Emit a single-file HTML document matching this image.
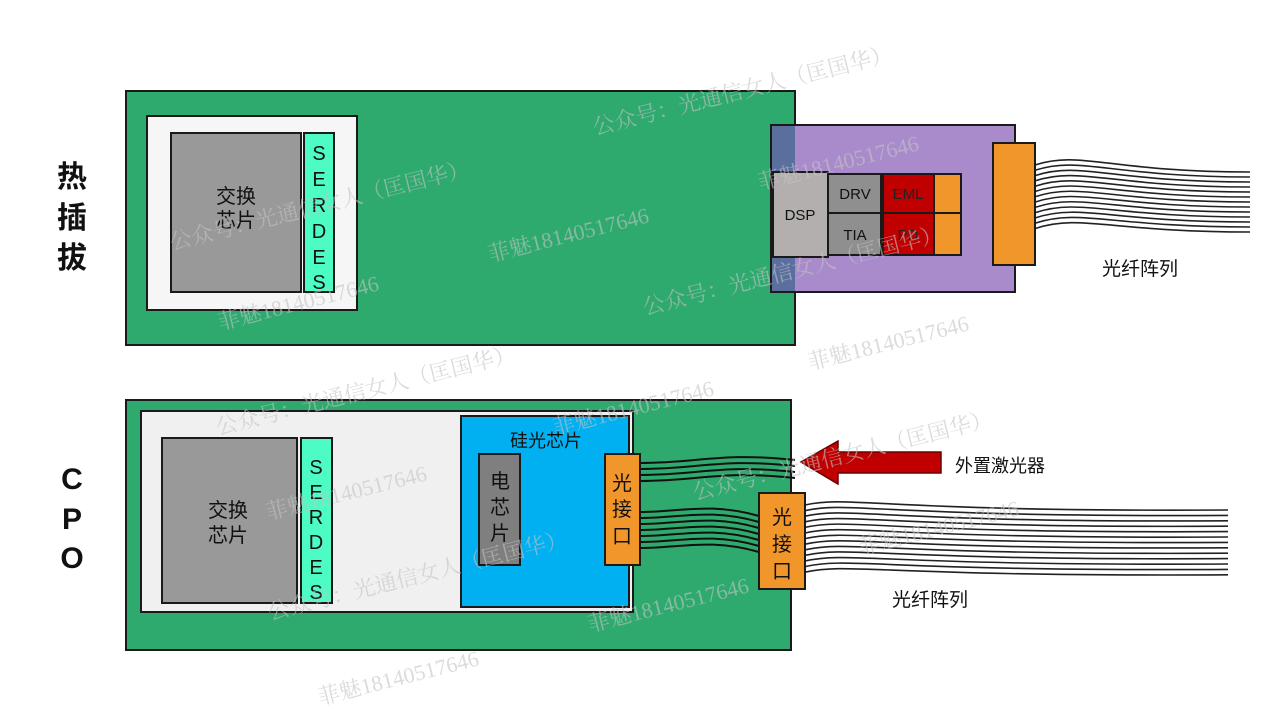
<!DOCTYPE html>
<html><head><meta charset="utf-8"><style>
html,body{margin:0;padding:0;background:#fff;}
svg{display:block;}
text{font-family:"Liberation Sans","Noto Sans CJK SC",sans-serif;}
.wm text{font-family:"Liberation Serif","Noto Serif CJK SC",serif;fill:#c4c4c4;font-size:22px;}
</style></head><body>
<svg width="1280" height="719" viewBox="0 0 1280 719" xmlns="http://www.w3.org/2000/svg">
<!-- TOP -->
<rect x="126" y="91" width="669" height="254" fill="#2eaa6e" stroke="#1a1a1a" stroke-width="2"/>
<rect x="147" y="116" width="210" height="194" fill="#f6f6f6" stroke="#1a1a1a" stroke-width="2"/>
<rect x="171" y="133" width="130" height="159" fill="#999" stroke="#1a1a1a" stroke-width="2"/>
<rect x="304" y="133" width="30" height="159" fill="#4dfbc4" stroke="#1a1a1a" stroke-width="2"/>
<text x="236" y="203" font-size="20" text-anchor="middle" fill="#111">交换</text>
<text x="236" y="227" font-size="20" text-anchor="middle" fill="#111">芯片</text>
<g font-size="20" text-anchor="middle" fill="#111">
<text x="319" y="160">S</text><text x="319" y="186">E</text><text x="319" y="212">R</text><text x="319" y="238">D</text><text x="319" y="264">E</text><text x="319" y="289">S</text></g>
<g font-size="30" font-weight="bold" text-anchor="middle" fill="#111">
<text x="72" y="187">热</text><text x="72" y="228">插</text><text x="72" y="268">拔</text></g>

<rect x="771" y="125" width="244" height="167" fill="#a98bcc"/>
<rect x="771" y="125" width="24" height="167" fill="#5a6f9e"/>
<rect x="771" y="125" width="244" height="167" fill="none" stroke="#1a1a1a" stroke-width="2"/>
<rect x="773" y="172" width="55" height="85" fill="#b4afaf" stroke="#1a1a1a" stroke-width="2"/>
<text x="800" y="220" font-size="15" text-anchor="middle" fill="#111">DSP</text>
<rect x="828" y="174" width="53" height="39" fill="#8f8f8f" stroke="#1a1a1a" stroke-width="2"/>
<rect x="828" y="213" width="53" height="42" fill="#8f8f8f" stroke="#1a1a1a" stroke-width="2"/>
<text x="855" y="199" font-size="15" text-anchor="middle" fill="#111">DRV</text>
<text x="855" y="240" font-size="15" text-anchor="middle" fill="#111">TIA</text>
<rect x="883" y="174" width="51" height="39" fill="#c00000" stroke="#1a1a1a" stroke-width="2"/>
<rect x="883" y="213" width="51" height="42" fill="#c00000" stroke="#1a1a1a" stroke-width="2"/>
<text x="908" y="199" font-size="15" text-anchor="middle" fill="#222">EML</text>
<text x="908" y="240" font-size="15" text-anchor="middle" fill="#222">PD</text>
<rect x="934" y="174" width="27" height="39" fill="#f0962a" stroke="#1a1a1a" stroke-width="2"/>
<rect x="934" y="213" width="27" height="42" fill="#f0962a" stroke="#1a1a1a" stroke-width="2"/>
<g stroke="#222" stroke-width="1.6" fill="none">
<path d="M1035,165 C1080,150 1110,172 1250,172"/><path d="M1035,170.3 C1080,155.3 1110,177 1250,177"/>
<path d="M1035,175.6 C1080,160.6 1110,182 1250,182"/><path d="M1035,180.9 C1080,165.9 1110,187 1250,187"/>
<path d="M1035,186.2 C1080,171.2 1110,192 1250,192"/><path d="M1035,191.5 C1080,176.5 1110,197 1250,197"/>
<path d="M1035,196.8 C1080,181.8 1110,202 1250,202"/><path d="M1035,202.1 C1080,187.1 1110,207 1250,207"/>
<path d="M1035,207.4 C1080,192.4 1110,212 1250,212"/><path d="M1035,212.7 C1080,197.7 1110,217 1250,217"/>
<path d="M1035,218 C1080,203 1110,222 1250,222"/><path d="M1035,223.3 C1080,208.3 1110,227 1250,227"/>
<path d="M1035,228.6 C1080,213.6 1110,232 1250,232"/></g>
<rect x="993" y="143" width="42" height="122" fill="#f0962a" stroke="#1a1a1a" stroke-width="2"/>
<text x="1140" y="275" font-size="19" text-anchor="middle" fill="#111">光纤阵列</text>

<!-- BOTTOM -->
<rect x="126" y="400" width="665" height="250" fill="#2eaa6e" stroke="#1a1a1a" stroke-width="2"/>
<rect x="141" y="411" width="492" height="201" fill="#f0f0f0" stroke="#1a1a1a" stroke-width="2"/>
<rect x="162" y="438" width="135" height="165" fill="#999" stroke="#1a1a1a" stroke-width="2"/>
<rect x="301" y="438" width="31" height="165" fill="#4dfbc4" stroke="#1a1a1a" stroke-width="2"/>
<text x="228" y="517" font-size="20" text-anchor="middle" fill="#111">交换</text>
<text x="228" y="542" font-size="20" text-anchor="middle" fill="#111">芯片</text>
<g font-size="20" text-anchor="middle" fill="#111">
<text x="316" y="474">S</text><text x="316" y="499">E</text><text x="316" y="524">R</text><text x="316" y="549">D</text><text x="316" y="574">E</text><text x="316" y="599">S</text></g>
<g font-size="30" font-weight="bold" text-anchor="middle" fill="#111">
<text x="72" y="489">C</text><text x="72" y="529">P</text><text x="72" y="568">O</text></g>
<rect x="461" y="416" width="168" height="191" fill="#00b0f0" stroke="#1a1a1a" stroke-width="2"/>
<text x="546" y="447" font-size="18" text-anchor="middle" fill="#111">硅光芯片</text>
<rect x="479" y="454" width="41" height="111" fill="#7f7f7f" stroke="#1a1a1a" stroke-width="2"/>
<g font-size="20" text-anchor="middle" fill="#111"><text x="500" y="488">电</text><text x="500" y="514">芯</text><text x="500" y="540">片</text></g>
<g stroke="#111" stroke-width="2" fill="none">
<path d="M640,463 C700,463 720,452 795,460"/><path d="M640,469 C700,469 720,458 795,466"/>
<path d="M640,475 C700,475 720,464 795,472"/><path d="M640,481 C700,481 720,470 795,478"/>
<path d="M640,512 C680,512 710,502 759,516"/><path d="M640,518 C680,518 710,508 759,522"/>
<path d="M640,524 C680,524 710,514 759,528"/><path d="M640,530 C680,530 710,520 759,534"/>
<path d="M640,536 C680,536 710,526 759,540"/><path d="M640,542 C680,542 710,532 759,546"/>
<path d="M640,548 C680,548 710,538 759,552"/></g>
<rect x="605" y="454" width="35" height="111" fill="#f0962a" stroke="#1a1a1a" stroke-width="2"/>
<g font-size="20" text-anchor="middle" fill="#111"><text x="622" y="490">光</text><text x="622" y="516">接</text><text x="622" y="543">口</text></g>
<g stroke="#222" stroke-width="1.6" fill="none">
<path d="M805,505 C850,495 880,512 1228,510"/><path d="M805,510.6 C850,500.6 880,517.4 1228,515.4"/>
<path d="M805,516.2 C850,506.2 880,522.8 1228,520.8"/><path d="M805,521.8 C850,511.8 880,528.2 1228,526.2"/>
<path d="M805,527.4 C850,517.4 880,533.6 1228,531.6"/><path d="M805,533 C850,523 880,539 1228,537"/>
<path d="M805,538.6 C850,528.6 880,544.4 1228,542.4"/><path d="M805,544.2 C850,534.2 880,549.8 1228,547.8"/>
<path d="M805,549.8 C850,539.8 880,555.2 1228,553.2"/><path d="M805,555.4 C850,545.4 880,560.6 1228,558.6"/>
<path d="M805,561 C850,551 880,566 1228,564"/><path d="M805,566.6 C850,556.6 880,571.4 1228,569.4"/>
<path d="M805,572.2 C850,562.2 880,576.8 1228,574.8"/></g>
<rect x="759" y="493" width="46" height="96" fill="#f0962a" stroke="#1a1a1a" stroke-width="2"/>
<g font-size="20" text-anchor="middle" fill="#111"><text x="782" y="524">光</text><text x="782" y="551">接</text><text x="782" y="578">口</text></g>
<polygon points="801,462 838,441 838,452 941,452 941,473 838,473 838,484" fill="#c00000" stroke="#6a0000" stroke-width="1.5"/>
<text x="955" y="472" font-size="18" fill="#111">外置激光器</text>
<text x="930" y="606" font-size="19" text-anchor="middle" fill="#111">光纤阵列</text>

<!-- watermarks -->
<g class="wm" opacity="0.6">
<text transform="translate(595,135) rotate(-14)">公众号：光通信女人（匡国华）</text>
<text transform="translate(760,190) rotate(-14)">菲魅18140517646</text>
<text transform="translate(172,250) rotate(-14)">公众号：光通信女人（匡国华）</text>
<text transform="translate(490,262) rotate(-14)">菲魅18140517646</text>
<text transform="translate(645,315) rotate(-14)">公众号：光通信女人（匡国华）</text>
<text transform="translate(220,330) rotate(-14)">菲魅18140517646</text>
<text transform="translate(810,370) rotate(-14)">菲魅18140517646</text>
<text transform="translate(218,435) rotate(-14)">公众号：光通信女人（匡国华）</text>
<text transform="translate(555,435) rotate(-14)">菲魅18140517646</text>
<text transform="translate(695,500) rotate(-14)">公众号：光通信女人（匡国华）</text>
<text transform="translate(268,520) rotate(-14)">菲魅18140517646</text>
<text transform="translate(860,555) rotate(-14)">菲魅18140517646</text>
<text transform="translate(270,620) rotate(-14)">公众号：光通信女人（匡国华）</text>
<text transform="translate(590,632) rotate(-14)">菲魅18140517646</text>
<text transform="translate(320,705) rotate(-14)">菲魅18140517646</text>
</g>
</svg>
</body></html>
